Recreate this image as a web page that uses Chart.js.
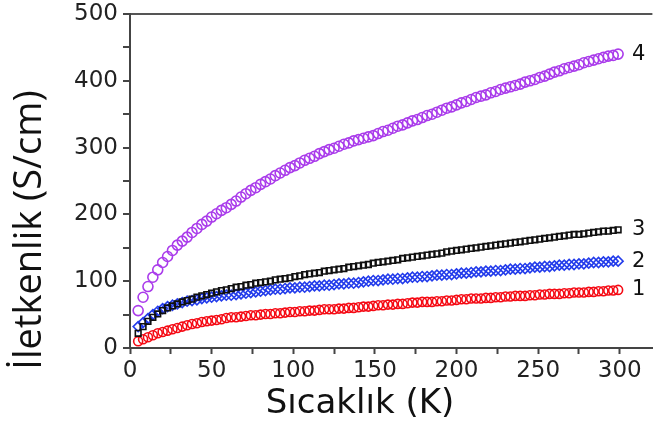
<!DOCTYPE html>
<html>
<head>
<meta charset="utf-8">
<script src="https://cdn.jsdelivr.net/npm/chart.js@4"></script>
<style>
  html, body { margin: 0; padding: 0; background: #fff; }
  #wrap { width: 659px; height: 425px; }
</style>
</head>
<body>
<div id="wrap"><canvas id="chartConductivity"></canvas></div>
<script>
// temperature (K)
const temperature = [5, 8, 11, 14, 17, 20, 23, 26, 29, 32, 35, 38, 41, 44, 47, 50, 53, 56, 59, 62,
    65, 68, 71, 74, 77, 80, 83, 86, 89, 92, 95, 98, 101, 104, 107, 110, 113, 116, 119, 122,
    125, 128, 131, 134, 137, 140, 143, 146, 149, 152, 155, 158, 161, 164, 167, 170, 173, 176, 179, 182,
    185, 188, 191, 194, 197, 200, 203, 206, 209, 212, 215, 218, 221, 224, 227, 230, 233, 236, 239, 242,
    245, 248, 251, 254, 257, 260, 263, 266, 269, 272, 275, 278, 281, 284, 287, 290, 293, 296, 299];

// conductivity (S/cm), sample 1 - red
const sample1 = [10, 13, 16, 19, 22, 24, 26, 28, 30, 32, 34, 36, 37, 39, 40, 41, 42, 43, 45, 46,
    46, 47, 48, 49, 49, 50, 51, 51, 52, 52, 53, 54, 54, 55, 55, 56, 56, 57, 58, 58,
    58, 59, 59, 60, 60, 61, 62, 62, 63, 64, 64, 65, 65, 66, 66, 67, 68, 68, 69, 69,
    69, 70, 70, 71, 71, 72, 73, 73, 74, 74, 74, 75, 75, 76, 76, 77, 77, 78, 78, 78,
    79, 79, 80, 80, 81, 81, 81, 82, 82, 83, 83, 83, 84, 84, 85, 85, 86, 86, 87];

// sample 2 - blue
const sample2 = [32, 38, 44, 50, 55, 59, 62, 64, 66, 68, 70, 71, 72, 74, 75, 76, 77, 78, 79, 79,
    80, 81, 82, 83, 84, 85, 86, 87, 88, 88, 89, 90, 90, 91, 91, 92, 93, 93, 94, 94,
    95, 96, 96, 97, 97, 98, 99, 100, 101, 101, 102, 103, 103, 104, 104, 105, 106, 106, 107, 107,
    108, 109, 109, 110, 110, 111, 112, 112, 113, 114, 114, 115, 115, 116, 116, 117, 118, 118, 119, 119,
    120, 121, 121, 122, 122, 123, 124, 124, 125, 125, 126, 126, 127, 128, 128, 129, 129, 130, 130];

// sample 3 - black
const sample3 = [22, 32, 40, 46, 51, 56, 60, 63, 66, 69, 71, 73, 76, 78, 80, 82, 84, 86, 87, 89,
    91, 92, 94, 95, 97, 98, 99, 100, 102, 103, 104, 105, 107, 108, 110, 111, 112, 113, 115, 116,
    117, 118, 119, 121, 122, 123, 124, 125, 127, 128, 129, 130, 131, 132, 134, 135, 136, 137, 138, 139,
    140, 141, 142, 144, 145, 146, 147, 148, 149, 150, 151, 152, 153, 154, 155, 156, 157, 158, 159, 160,
    161, 162, 163, 164, 165, 166, 167, 168, 169, 170, 170, 171, 172, 173, 174, 175, 175, 176, 177];

// sample 4 - purple
const sample4 = [56, 76, 92, 106, 117, 128, 137, 146, 154, 160, 166, 173, 179, 185, 190, 196, 201, 206, 210, 215,
    220, 226, 231, 236, 240, 245, 249, 253, 258, 262, 266, 270, 273, 277, 281, 284, 287, 291, 294, 297,
    299, 302, 305, 307, 310, 312, 314, 316, 318, 321, 324, 326, 329, 332, 334, 337, 340, 342, 345, 348,
    350, 353, 356, 359, 361, 364, 367, 369, 372, 375, 377, 379, 382, 384, 387, 389, 391, 393, 395, 398,
    400, 402, 405, 407, 410, 413, 415, 418, 420, 422, 424, 427, 429, 431, 433, 435, 437, 438, 440];

const seriesNames = ['1', '2', '3', '4'];
const seriesData = [sample1, sample2, sample3, sample4];
const seriesColors = ['rgb(245,10,20)', 'rgb(35,60,235)', 'rgb(15,15,15)', 'rgb(170,60,235)'];
const seriesShapes = ['circle', 'rectRot', 'rect', 'circle'];
const seriesRadius = [4.5, 5, 4, 5];

function toPoints(values) {
    let pts = [];
    for (let i = 0; i < temperature.length; i++) {
        pts.push({ x: temperature[i], y: values[i] });
    }
    return pts;
}

// axis titles, drawn by hand so they sit where the reference has them
const axisTitlePlugin = {
    id: 'axisTitles',
    afterDraw(chart) {
        const ctx = chart.ctx;
        ctx.save();
        ctx.fillStyle = '#111';
        ctx.textAlign = 'center';
        ctx.textBaseline = 'middle';
        ctx.font = '34px "DejaVu Sans"';
        ctx.fillText('Sıcaklık (K)', 360, 404);
        ctx.translate(30, 230);
        ctx.rotate(-Math.PI / 2);
        ctx.font = '38px "Open Sans"';
        ctx.fillText('İletkenlik (S/cm)', 0, 0);
        ctx.restore();
    }
};

// numbers next to the end of each curve
const endLabelPlugin = {
    id: 'endLabels',
    afterDatasetsDraw(chart) {
        const ctx = chart.ctx;
        const xs = chart.scales.x;
        const ys = chart.scales.y;
        ctx.save();
        ctx.font = '21px "DejaVu Sans"';
        ctx.fillStyle = '#111';
        ctx.textBaseline = 'middle';
        for (let i = 0; i < seriesData.length; i++) {
            const vals = seriesData[i];
            const last = vals[vals.length - 1];
            ctx.fillText(seriesNames[i], xs.getPixelForValue(temperature[temperature.length - 1]) + 14, ys.getPixelForValue(last));
        }
        ctx.restore();
    }
};

function initChart() {
    let datasets = [];
    for (let i = 0; i < seriesData.length; i++) {
        datasets.push({
            label: seriesNames[i],
            data: toPoints(seriesData[i]),
            showLine: false,
            pointStyle: seriesShapes[i],
            pointRadius: seriesRadius[i],
            pointBorderWidth: 1.6,
            borderColor: seriesColors[i],
            pointBorderColor: seriesColors[i],
            pointBackgroundColor: 'rgba(255,255,255,0)'
        });
    }
    datasets.reverse();

    const el = document.getElementById('chartConductivity');
    new Chart(el, {
        type: 'scatter',
        data: { datasets: datasets },
        options: {
            responsive: true,
            maintainAspectRatio: false,
            animation: false,
            layout: { padding: { top: 14, right: 2, left: 0, bottom: 0 } },
            plugins: {
                legend: { display: false },
                tooltip: { enabled: false }
            },
            scales: {
                x: {
                    type: 'linear',
                    min: 0,
                    max: 320,
                    afterFit(scale) {
                        scale.height = 77;
                        scale.paddingLeft = 0;
                        scale.paddingRight = 0;
                    },
                    border: { color: '#444', width: 2 },
                    grid: { drawOnChartArea: false, tickLength: 6, tickColor: '#444', tickWidth: 2 },
                    ticks: {
                        stepSize: 25,
                        includeBounds: false,
                        padding: 3,
                        color: '#222',
                        font: { family: 'DejaVu Sans', size: 23 },
                        maxRotation: 0,
                        autoSkip: false,
                        callback: v => (v % 50 === 0 ? v : '')
                    }
                },
                y: {
                    min: 0,
                    max: 500,
                    afterFit(scale) {
                        scale.width = 130;
                        scale.paddingTop = 0;
                        scale.paddingBottom = 0;
                    },
                    border: { color: '#444', width: 2 },
                    grid: {
                        drawOnChartArea: true,
                        color: ctx => (ctx.tick && ctx.tick.value === 500 ? '#555' : 'rgba(0,0,0,0)'),
                        lineWidth: 2,
                        tickLength: 7,
                        tickColor: '#444',
                        tickWidth: 2
                    },
                    ticks: {
                        stepSize: 50,
                        padding: 5,
                        color: '#222',
                        font: { family: 'DejaVu Sans', size: 23 },
                        autoSkip: false,
                        callback: v => (v % 100 === 0 ? v : '')
                    }
                }
            }
        },
        plugins: [axisTitlePlugin, endLabelPlugin]
    });
}

window.addEventListener('load', initChart);
</script>
</body>
</html>
